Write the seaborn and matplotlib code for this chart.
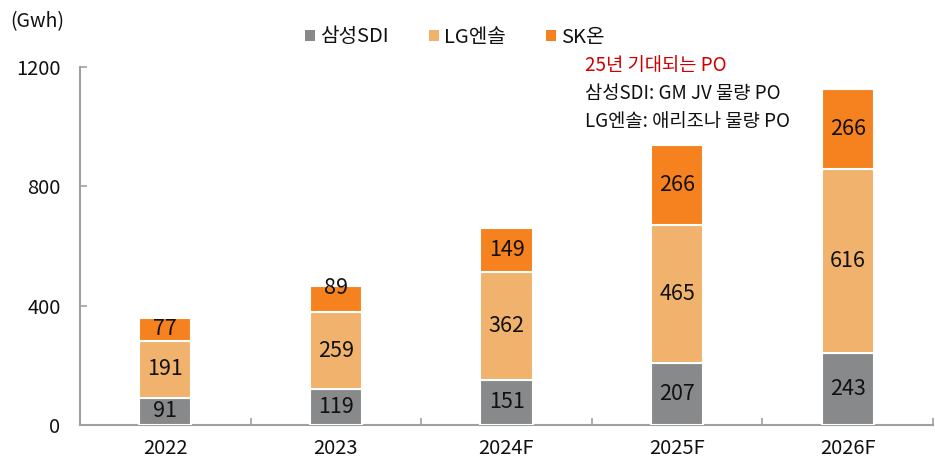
import numpy as np
import matplotlib.pyplot as plt
import pandas as pd
import seaborn as sns
from matplotlib.patches import Patch

years = ["2022", "2023", "2024F", "2025F", "2026F"]
samsung = [91, 119, 151, 207, 243]
lg = [191, 259, 362, 465, 616]
sk = [77, 89, 149, 266, 266]
series_names = ["삼성SDI", "LG엔솔", "SK온"]
colors = ["#87898b", "#f0b26c", "#f5821f"]
y_ticks = [0, 400, 800, 1200]
note_lines = ["25년 기대되는 PO", "삼성SDI: GM JV 물량 PO", "LG엔솔: 애리조나 물량 PO"]

sns.set_style("white")
plt.rcParams['font.family'] = ['Noto Sans CJK KR', 'DejaVu Sans']

df = pd.DataFrame({"year": years, "s": samsung, "l": lg, "k": sk})
bottoms = [np.zeros(len(years)), np.array(samsung), np.array(samsung) + np.array(lg)]

fig = plt.figure(figsize=(9.35, 4.62), dpi=100)
ax = fig.add_axes([80/935, 37/462, 853/935, 358/462])

for col, bot, c in zip(["s", "l", "k"], bottoms, colors):
    sns.barplot(data=df, x="year", y=col, bottom=bot, color=c, width=0.305,
                edgecolor="white", linewidth=1.5, saturation=1, ax=ax, zorder=3)

for i, cont in enumerate(ax.containers):
    txts = ax.bar_label(cont, label_type="center", fontsize=15.5, color="#111111")
    if i == 2:
        txts[1].xyann = (0, 8)

ax.set_ylim(0, 1200)
ax.set_xlim(-0.5, 4.5)
ax.set_yticks(y_ticks)
ax.set_xticks(range(len(years)))
ax.set_xticklabels(years)
ax.set_xticks(np.arange(-0.5, 5.0, 1.0), minor=True)
ax.tick_params(axis="x", which="major", bottom=True, length=0, labelsize=14.5, pad=9, colors="#111111")
ax.tick_params(axis="x", which="minor", bottom=True, length=5, direction="in", color="#a0a0a0", width=1.2)
ax.tick_params(axis="y", left=True, length=5, direction="in", color="#a0a0a0", width=1.2, labelsize=14.5,
               pad=14, labelcolor="#111111")
ax.set_xlabel("")
ax.set_ylabel("")
for s in ["top", "right"]:
    ax.spines[s].set_visible(False)
for s in ["left", "bottom"]:
    ax.spines[s].set_color("#a0a0a0")
    ax.spines[s].set_linewidth(1.5)

handles = [Patch(facecolor=c, edgecolor="none") for c in colors]
fig.legend(handles, series_names, loc="center", bbox_to_anchor=(455/935, 1 - 37/462), ncol=3,
           frameon=False, fontsize=14.5, handlelength=0.5, handleheight=0.5, handletextpad=0.25,
           columnspacing=2.0, labelcolor="#111111")

fig.text(10/935, 1 - 22/462, "(Gwh)", fontsize=14, va="center", ha="left", color="#111111")
for j, line in enumerate(note_lines):
    fig.text(585/935, 1 - (65 + 28*j)/462, line, fontsize=13.5, va="center", ha="left",
             color="#d00000" if j == 0 else "#111111")

plt.savefig("out.png", dpi=100)
